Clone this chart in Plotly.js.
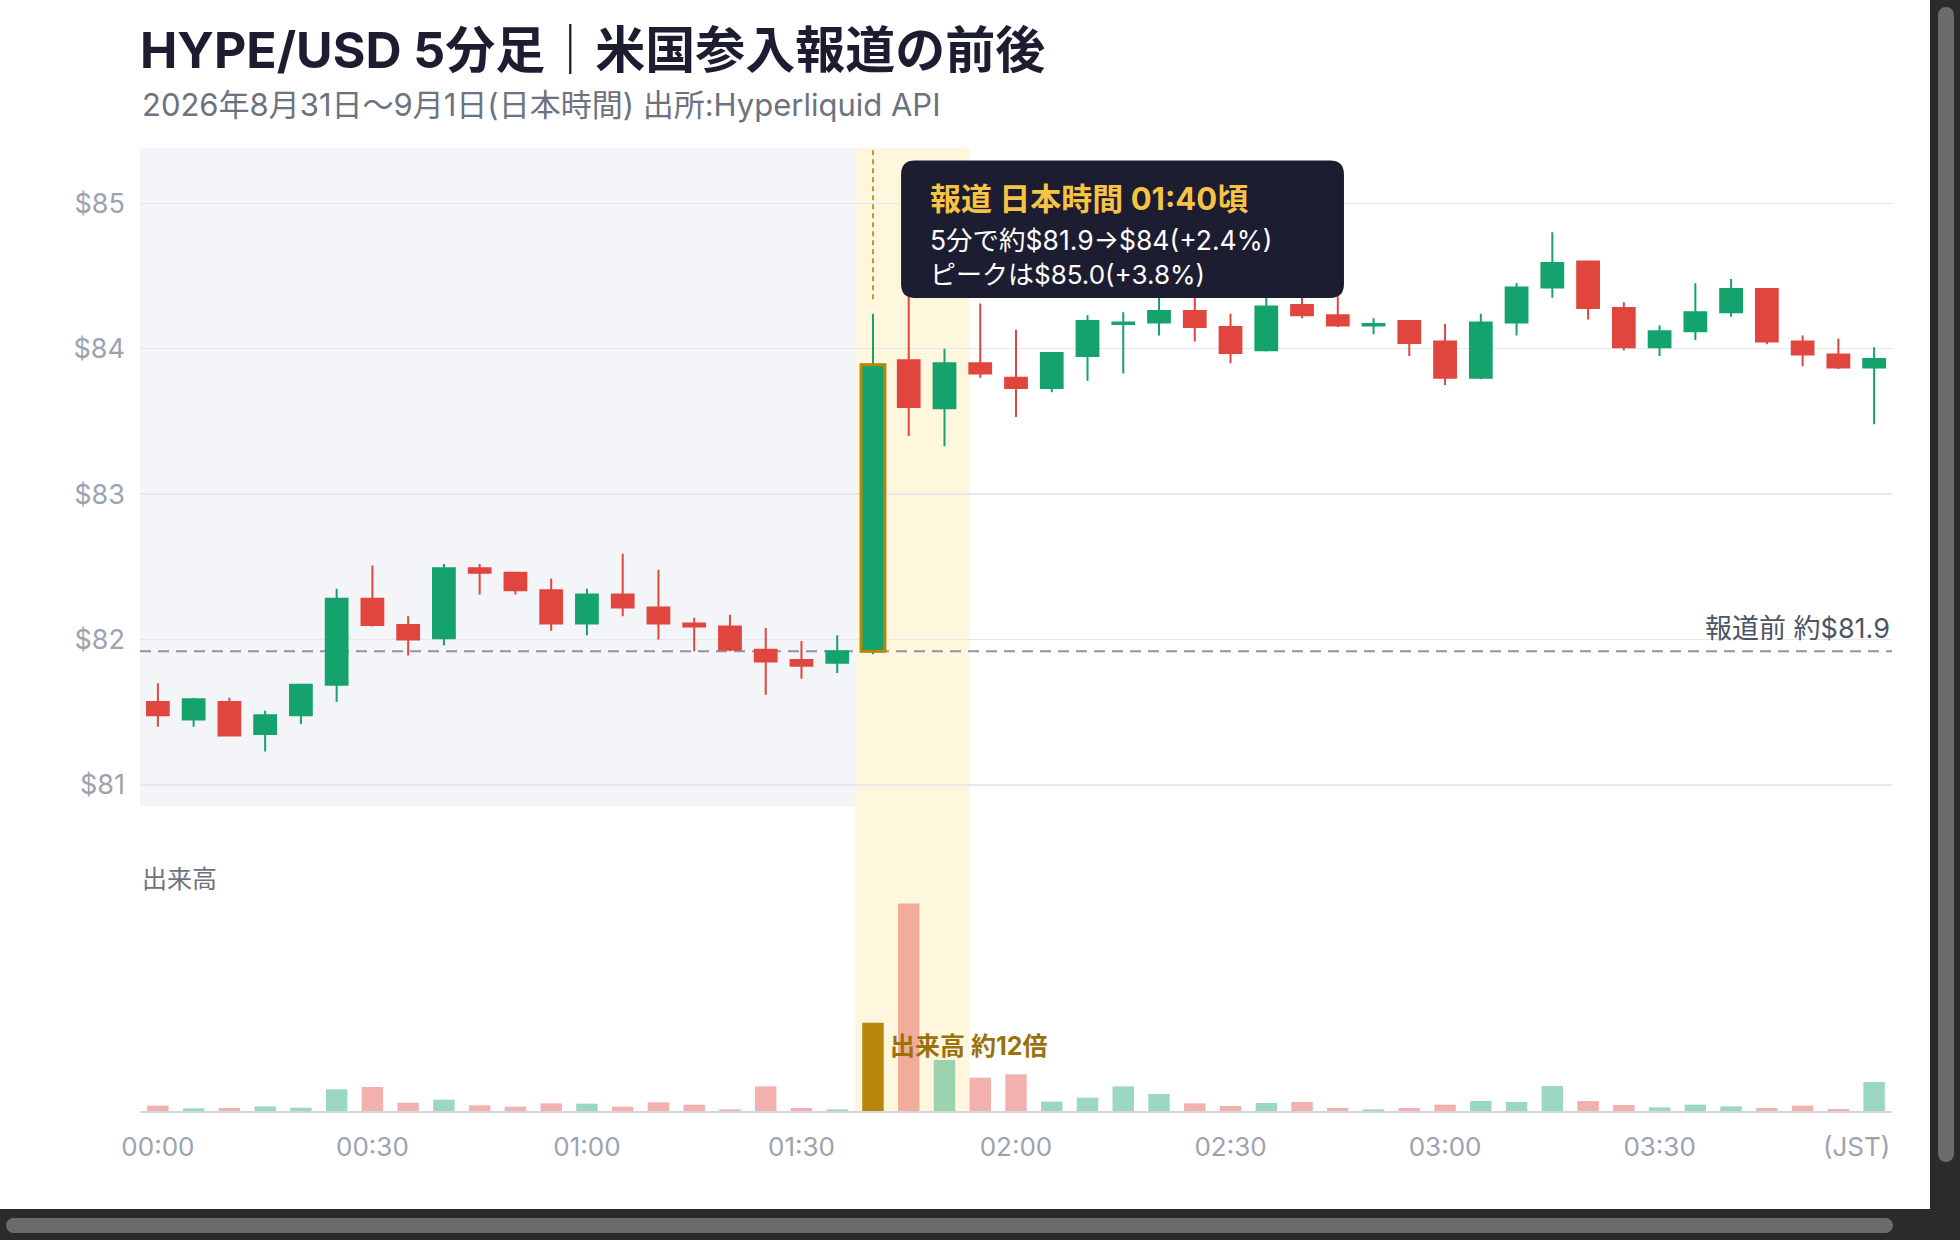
<!DOCTYPE html>
<html>
<head>
<meta charset="utf-8">
<script src="https://cdn.plot.ly/plotly-3.0.1.min.js"></script>
<style>
  html, body { margin: 0; padding: 0; background: #2b2b2b; overflow: hidden; }
  #chart { position: absolute; left: 0; top: 0; width: 1930px; height: 1209px; background: #fff; }
  .thumb { position: absolute; background: #6b6b6b; border-radius: 8px; }
</style>
</head>
<body>
<div id="chart"></div>
<div class="thumb" style="left:1938px; top:7px; width:16px; height:1155px;"></div>
<div class="thumb" style="left:6px; top:1218px; width:1887px; height:15px;"></div>
<script>
// 5分足 (JST)
const times = ["00:00","00:05","00:10","00:15","00:20","00:25","00:30","00:35","00:40","00:45",
  "00:50","00:55","01:00","01:05","01:10","01:15","01:20","01:25","01:30","01:35",
  "01:40","01:45","01:50","01:55","02:00","02:05","02:10","02:15","02:20","02:25",
  "02:30","02:35","02:40","02:45","02:50","02:55","03:00","03:05","03:10","03:15",
  "03:20","03:25","03:30","03:35","03:40","03:45","03:50","03:55","04:00"];

const open = [81.57,81.45,81.57,81.35,81.48,81.69,82.28,82.10,82.01,82.49,
  82.46,82.34,82.11,82.31,82.22,82.11,82.09,81.93,81.86,81.84,
  81.92,83.92,83.59,83.90,83.80,83.73,83.95,84.17,84.18,84.26,
  84.15,83.99,84.30,84.23,84.16,84.19,84.05,83.80,84.18,84.42,
  84.60,84.28,84.01,84.12,84.25,84.41,84.05,83.96,83.87];
const high = [81.70,81.60,81.60,81.51,81.69,82.35,82.51,82.16,82.52,82.52,
  82.46,82.42,82.35,82.59,82.48,82.15,82.17,82.08,81.99,82.03,
  84.24,85.00,84.00,84.31,84.13,83.97,84.23,84.25,84.42,84.38,
  84.24,84.45,84.40,84.36,84.21,84.19,84.17,84.24,84.45,84.80,
  84.60,84.32,84.16,84.45,84.48,84.41,84.09,84.07,84.01];
const low = [81.40,81.40,81.34,81.23,81.42,81.57,82.09,81.89,81.96,82.31,
  82.31,82.06,82.03,82.16,82.00,81.92,81.92,81.62,81.73,81.77,
  81.90,83.40,83.33,83.80,83.53,83.70,83.78,83.83,84.09,84.05,
  83.90,83.98,84.21,84.15,84.10,83.95,83.75,83.79,84.09,84.35,
  84.20,83.99,83.95,84.06,84.22,84.03,83.88,83.86,83.48];
const close = [81.48,81.59,81.34,81.48,81.69,82.28,82.10,82.00,82.49,82.46,
  82.34,82.11,82.31,82.22,82.11,82.09,81.93,81.85,81.82,81.92,
  83.89,83.60,83.90,83.83,83.73,83.97,84.19,84.18,84.26,84.15,
  83.97,84.29,84.23,84.16,84.17,84.04,83.80,84.18,84.42,84.59,
  84.28,84.01,84.12,84.25,84.41,84.05,83.96,83.87,83.93];
const volume = [16,8,9,14,10,65,72,25,34,17,
  13,23,22,13,26,19,5,74,9,5,
  265,623,153,100,110,28,40,74,51,23,
  15,24,27,9,5,9,19,30,27,75,
  30,18,11,19,14,9,16,6,87];

const priceTicks = [81, 82, 83, 84, 85];
const priceTickText = ["$81", "$82", "$83", "$84", "$85"];
const timeTicks = ["00:00","00:30","01:00","01:30","02:00","02:30","03:00","03:30"];

const newsTime = "01:40";
const preNewsPrice = 81.92;
const day = "2026-09-01 ";

const GREEN = "#14a36c", RED = "#e0463e", GOLD = "#b8860b";
const FONT = "Inter, 'Noto Sans CJK JP', sans-serif";

const x = times.map(t => day + t);
const newsIdx = times.indexOf(newsTime);
const yRange = [80.855, 85.38];

const volColors = volume.map((v, i) => {
  if (i === newsIdx) return GOLD;
  return close[i] >= open[i] ? "rgba(20,163,108,0.42)" : "rgba(224,70,62,0.42)";
});

const candles = {
  type: "candlestick",
  x: x, open: open, high: high, low: low, close: close,
  increasing: { line: { color: GREEN, width: 2 }, fillcolor: GREEN },
  decreasing: { line: { color: RED, width: 2 }, fillcolor: RED },
  whiskerwidth: 0,
  xaxis: "x", yaxis: "y",
  showlegend: false
};

const bars = {
  type: "bar",
  x: x, y: volume,
  marker: { color: volColors },
  width: 180000,
  xaxis: "x", yaxis: "y2",
  showlegend: false
};

// 吹き出し枠 (角丸)
const bx0 = 0.4344, bx1 = 0.6872, by0 = 0.8443, by1 = 0.987;
const rx = 14 / 1752, ry = 14 / 963.5;
const boxPath = `M ${bx0 + rx},${by0} L ${bx1 - rx},${by0} Q ${bx1},${by0} ${bx1},${by0 + ry} ` +
  `L ${bx1},${by1 - ry} Q ${bx1},${by1} ${bx1 - rx},${by1} L ${bx0 + rx},${by1} ` +
  `Q ${bx0},${by1} ${bx0},${by1 - ry} L ${bx0},${by0 + ry} Q ${bx0},${by0} ${bx0 + rx},${by0} Z`;

const layout = {
  width: 1930, height: 1209,
  margin: { l: 140, r: 38, t: 148, b: 98 },
  paper_bgcolor: "#ffffff",
  plot_bgcolor: "#ffffff",
  font: { family: FONT, color: "#9ca3af" },
  boxgap: 0.13,
  boxgroupgap: 0.3,
  title: {
    text: "HYPE/USD 5分足｜米国参入報道の前後",
    x: 0, xref: "paper", xanchor: "left",
    y: 0.9586, yref: "container", yanchor: "middle",
    font: { family: FONT, size: 50, weight: 700, color: "#1c1d30" }
  },
  xaxis: {
    type: "date",
    range: ["2026-08-31 23:57:30", "2026-09-01 04:02:30"],
    anchor: "y2",
    rangeslider: { visible: false },
    tickvals: timeTicks.map(t => day + t),
    ticktext: timeTicks,
    tickfont: { size: 26, color: "#9ca3af" },
    showgrid: false, zeroline: false,
    showline: true, linecolor: "#d4d6dc", linewidth: 2,
    ticks: "", ticklabelstandoff: 12
  },
  yaxis: {
    domain: [0.3166, 1],
    range: yRange,
    tickvals: priceTicks, ticktext: priceTickText,
    tickfont: { size: 27, color: "#9ca3af" },
    gridcolor: "#e7e8ed", gridwidth: 1.5,
    zeroline: false, showline: false,
    ticks: "", ticklabelstandoff: 14
  },
  yaxis2: {
    domain: [0, 0.2263],
    range: [0, 654],
    showticklabels: false, showgrid: false, zeroline: false
  },
  shapes: [
    { type: "rect", xref: "x", yref: "y domain", layer: "below",
      x0: "2026-08-31 23:57:30", x1: day + "01:37:30", y0: 0, y1: 1,
      fillcolor: "#f4f5f9", line: { width: 0 } },
    { type: "rect", xref: "x", yref: "paper", layer: "below",
      x0: day + "01:37:30", x1: day + "01:53:30", y0: 0, y1: 1,
      fillcolor: "#fff6de", line: { width: 0 } },
    { type: "line", xref: "paper", yref: "y", layer: "between",
      x0: 0, x1: 1, y0: preNewsPrice, y1: preNewsPrice,
      line: { color: "#8e93a5", width: 2, dash: "11px,7px" } },
    { type: "line", xref: "x", yref: "y", layer: "above",
      x0: x[newsIdx], x1: x[newsIdx], y0: 84.34, y1: yRange[1],
      line: { color: "#c4972e", width: 2, dash: "5px,4px" } },
    { type: "rect", xref: "x", yref: "y", layer: "above",
      x0: day + "01:38:20", x1: day + "01:41:40",
      y0: open[newsIdx], y1: close[newsIdx],
      fillcolor: "rgba(0,0,0,0)", line: { color: GOLD, width: 3 } },
    { type: "path", xref: "paper", yref: "paper", layer: "above",
      path: boxPath, fillcolor: "#1c1d30", line: { width: 0 } }
  ],
  annotations: [
    { text: "2026年8月31日〜9月1日(日本時間) 出所:Hyperliquid API",
      xref: "paper", yref: "paper", x: 0, y: 1.0452, xanchor: "left", yanchor: "middle",
      showarrow: false, font: { family: FONT, size: 31, color: "#6b7280" } },
    { text: "(JST)",
      xref: "paper", yref: "paper", x: 1, y: -0.0365, xanchor: "right", yanchor: "middle",
      showarrow: false, font: { family: FONT, size: 26, color: "#9ca3af" } },
    { text: "報道前 約$81.9",
      xref: "paper", yref: "y", x: 1, y: preNewsPrice, xanchor: "right", yanchor: "bottom",
      yshift: 4, showarrow: false, font: { family: FONT, size: 27, color: "#4b5563" } },
    { text: "出来高",
      xref: "paper", yref: "paper", x: 0, y: 0.2408, xanchor: "left", yanchor: "middle",
      showarrow: false, font: { family: FONT, size: 25, color: "#6b7280" } },
    { text: "出来高 約12倍",
      xref: "x", yref: "y2", x: day + "01:42:05", y: 195, xanchor: "left", yanchor: "middle",
      showarrow: false, font: { family: FONT, size: 25, weight: 700, color: "#9a720c" } },
    { text: "報道 日本時間 01:40頃",
      xref: "paper", yref: "paper", x: 0.4497, y: 0.948, xanchor: "left", yanchor: "middle",
      showarrow: false, font: { family: FONT, size: 31, weight: 700, color: "#f6c344" } },
    { text: "5分で約$81.9→$84(+2.4%)",
      xref: "paper", yref: "paper", x: 0.4497, y: 0.904, xanchor: "left", yanchor: "middle",
      showarrow: false, font: { family: FONT, size: 26.5, color: "#ffffff" } },
    { text: "ピークは$85.0(+3.8%)",
      xref: "paper", yref: "paper", x: 0.4497, y: 0.8687, xanchor: "left", yanchor: "middle",
      showarrow: false, font: { family: FONT, size: 26, color: "#ffffff" } }
  ]
};

Plotly.newPlot("chart", [candles, bars], layout, { displayModeBar: false, staticPlot: true });
</script>
</body>
</html>
